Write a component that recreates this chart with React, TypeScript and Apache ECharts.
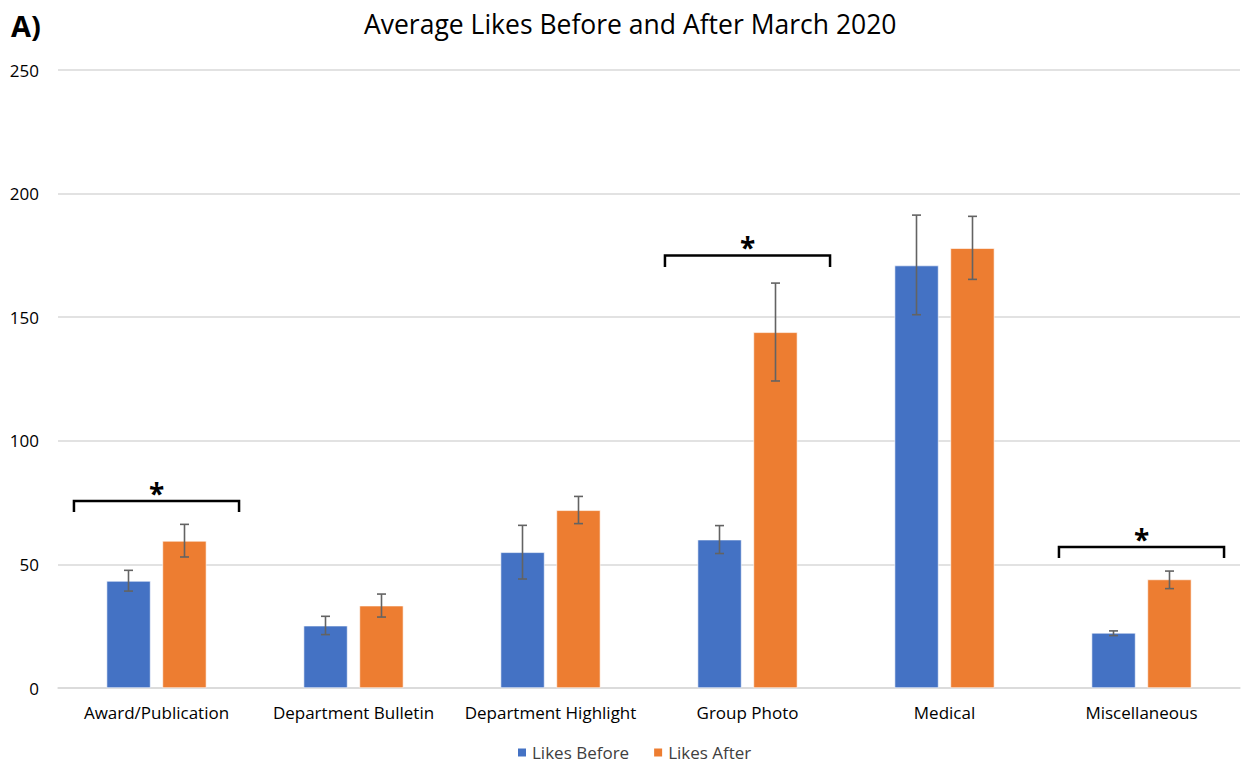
import React, { useEffect, useRef } from "react";
import * as echarts from "echarts";

const categories = [
  "Award/Publication",
  "Department Bulletin",
  "Department Highlight",
  "Group Photo",
  "Medical",
  "Miscellaneous",
];
const likesBefore = [43.3, 25.2, 54.9, 60.0, 170.9, 22.3];
const likesAfter = [59.5, 33.3, 71.9, 143.9, 177.9, 43.9];
const beforeErrLow = [39.2, 21.6, 44.1, 54.4, 151.0, 21.2];
const beforeErrHigh = [47.6, 29.0, 65.8, 65.7, 191.3, 23.1];
const afterErrLow = [53.0, 28.7, 66.5, 124.2, 165.3, 40.2];
const afterErrHigh = [66.2, 38.0, 77.5, 163.8, 190.8, 47.3];
// significance brackets: category index, bracket level, tick end level
const sigCategories = [0, 3, 5];
const sigTop = [75.6, 175.0, 57.0];
const sigTickEnd = [71.2, 170.3, 52.6];
const yTicks = [0, 50, 100, 150, 200, 250];

const BLUE = "#4472C4";
const ORANGE = "#ED7D31";
const FONT = "'Open Sans', 'Noto Sans', sans-serif";

function errRender(offset: number) {
  return (params: any, api: any) => {
    const idx = api.value(0);
    const x = api.coord([idx, 0])[0] + offset;
    const lo = api.coord([idx, api.value(1)])[1];
    const hi = api.coord([idx, api.value(2)])[1];
    const cap = 4.5;
    const style = { stroke: "#636363", lineWidth: 1.6 };
    return {
      type: "group",
      children: [
        { type: "line", shape: { x1: x, y1: lo, x2: x, y2: hi }, style },
        { type: "line", shape: { x1: x - cap, y1: hi, x2: x + cap, y2: hi }, style },
        { type: "line", shape: { x1: x - cap, y1: lo, x2: x + cap, y2: lo }, style },
      ],
    };
  };
}

export default function App() {
  const ref = useRef<HTMLDivElement>(null);
  useEffect(() => {
    document.body.style.margin = "0";
    const chart = echarts.init(ref.current!, undefined, { renderer: "svg" });
    chart.setOption({
      animation: false,
      backgroundColor: "#ffffff",
      title: {
        text: "Average Likes Before and After March 2020",
        left: 359,
        top: 5,
        textStyle: { fontFamily: FONT, fontSize: 26.5, fontWeight: "normal", color: "#000" },
      },
      graphic: [
        {
          type: "text",
          left: 11,
          top: 11,
          style: { text: "A)", font: `bold 29px ${FONT}`, fill: "#000" },
        },
      ],
      legend: {
        bottom: 0,
        left: 511,
        itemWidth: 10,
        itemHeight: 10,
        itemGap: 23,
        icon: "rect",
        textStyle: { fontFamily: FONT, fontSize: 17, color: "#404040" },
        data: ["Likes Before", "Likes After"],
      },
      grid: { left: 58, right: 1, top: 70, bottom: 78, containLabel: false },
      xAxis: {
        type: "category",
        data: categories,
        axisLine: { show: true, lineStyle: { color: "#d9d9d9", width: 1.5 } },
        axisTick: { show: false },
        axisLabel: { fontFamily: FONT, fontSize: 17, color: "#000", margin: 16, interval: 0 },
      },
      yAxis: {
        type: "value",
        min: yTicks[0],
        max: yTicks[yTicks.length - 1],
        interval: yTicks[1] - yTicks[0],
        axisLine: { show: false },
        axisTick: { show: false },
        splitLine: { lineStyle: { color: "#d9d9d9", width: 1.5 } },
        axisLabel: { fontFamily: FONT, fontSize: 17, color: "#000", margin: 19 },
      },
      series: [
        {
          name: "Likes Before",
          type: "bar",
          data: likesBefore,
          barWidth: 44,
          barGap: "27%",
          itemStyle: { color: BLUE, borderColor: "#ffffff", borderWidth: 0.6 },
        },
        {
          name: "Likes After",
          type: "bar",
          data: likesAfter,
          barWidth: 44,
          itemStyle: { color: ORANGE, borderColor: "#ffffff", borderWidth: 0.6 },
        },
        {
          type: "custom",
          name: "errBefore",
          renderItem: errRender(-28),
          data: categories.map((_, i) => [i, beforeErrLow[i], beforeErrHigh[i]]),
          encode: { x: 0, y: [1, 2] },
          z: 10,
          silent: true,
        },
        {
          type: "custom",
          name: "errAfter",
          renderItem: errRender(28),
          data: categories.map((_, i) => [i, afterErrLow[i], afterErrHigh[i]]),
          encode: { x: 0, y: [1, 2] },
          z: 10,
          silent: true,
        },
        {
          type: "custom",
          name: "sig",
          renderItem: (params: any, api: any) => {
            const idx = api.value(0);
            const cx = api.coord([idx, 0])[0];
            const top = api.coord([idx, api.value(1)])[1];
            const end = api.coord([idx, api.value(2)])[1];
            const half = api.size([1, 0])[0] * 0.419;
            return {
              type: "group",
              children: [
                {
                  type: "polyline",
                  shape: {
                    points: [
                      [cx - half, end],
                      [cx - half, top],
                      [cx + half, top],
                      [cx + half, end],
                    ],
                  },
                  style: { stroke: "#000", lineWidth: 2.5, fill: "none" },
                },
                {
                  type: "text",
                  x: cx,
                  y: top - 8,
                  style: {
                    text: "*",
                    font: `bold 28px ${FONT}`,
                    fill: "#000",
                    align: "center",
                    verticalAlign: "middle",
                  },
                },
              ],
            };
          },
          data: sigCategories.map((c, i) => [c, sigTop[i], sigTickEnd[i]]),
          encode: { x: 0, y: [1, 2] },
          z: 10,
          silent: true,
        },
      ],
    });
    return () => chart.dispose();
  }, []);
  return <div ref={ref} style={{ width: 1241, height: 766 }} />;
}
